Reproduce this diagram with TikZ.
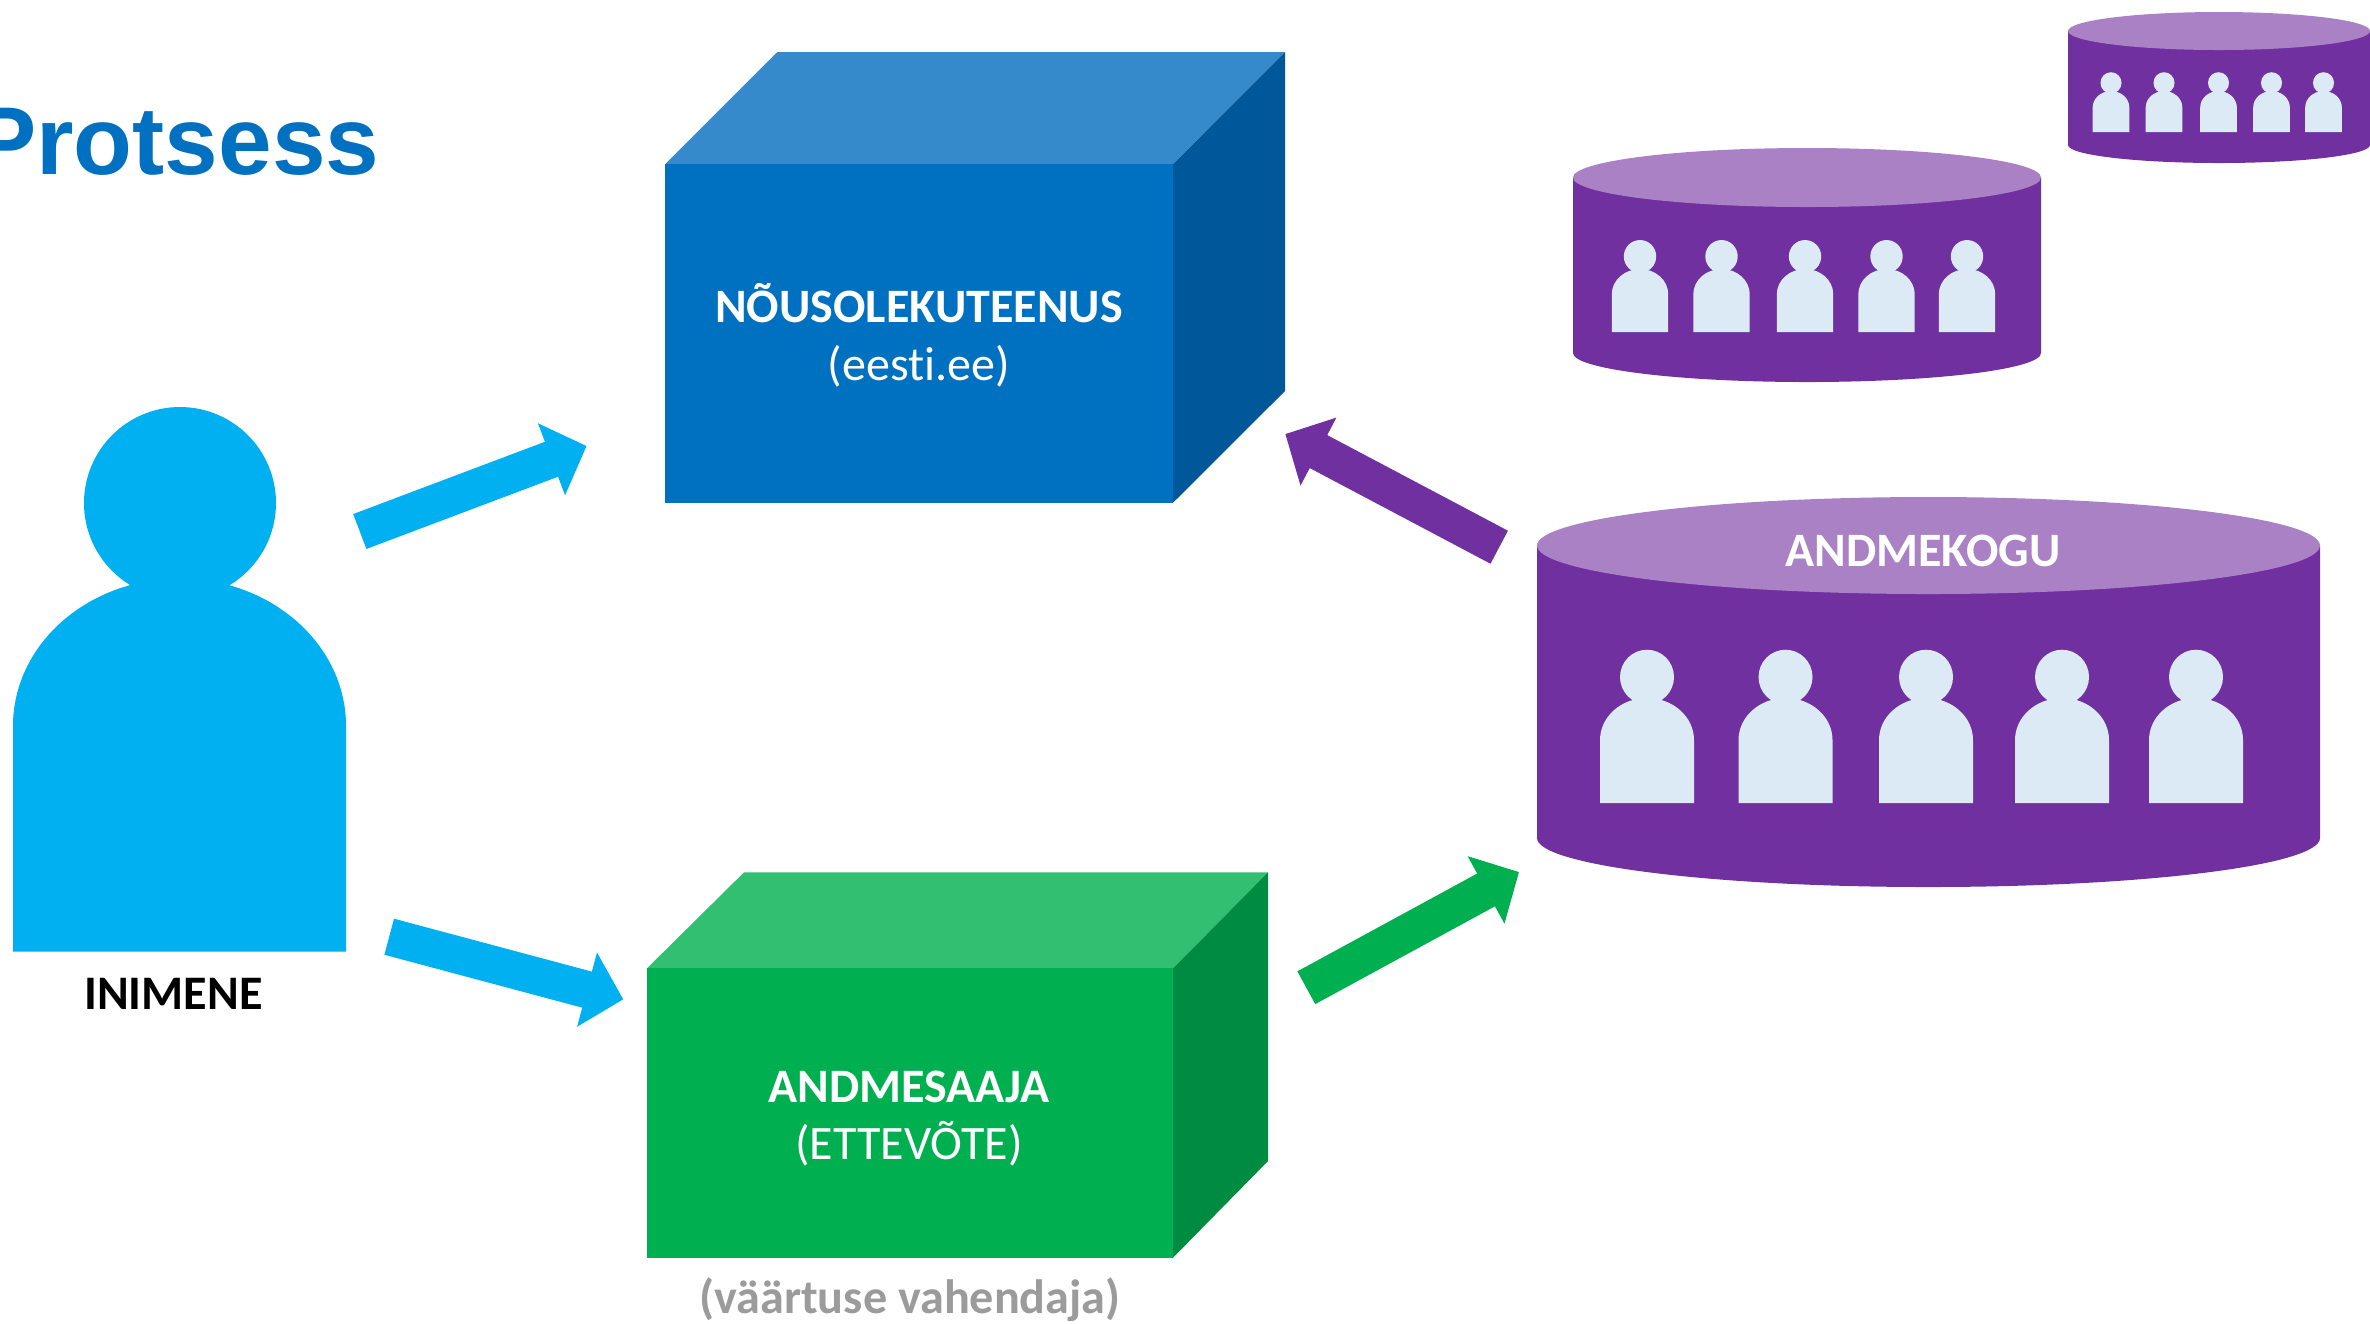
\documentclass[tikz,border=0pt]{standalone}
\usepackage{fontspec}
\setmainfont[Ligatures=NoCommon]{Carlito}
\newfontfamily\titlefont{Liberation Sans}
\usetikzlibrary{arrows.meta}
\definecolor{boxblue}{HTML}{0070C0}
\definecolor{boxbluetop}{HTML}{358ACB}
\definecolor{boxblueside}{HTML}{00579A}
\definecolor{boxgreen}{HTML}{00B050}
\definecolor{boxgreentop}{HTML}{33BF72}
\definecolor{boxgreenside}{HTML}{008C40}
\definecolor{dbpurple}{HTML}{7030A0}
\definecolor{dbtop}{HTML}{A981C4}
\definecolor{skyblue}{HTML}{00B0F0}
\definecolor{peoplefill}{HTML}{DCEAF6}
\definecolor{notegray}{HTML}{9B9B9B}
\tikzset{
  flowarrow/.style={line width=0.373cm,-{Triangle[length=0.375cm,width=0.746cm]}},
  labeltext/.style={anchor=base,inner sep=0pt,font=\fontsize{13.65pt}{16pt}\selectfont},
  whitehead/.style={labeltext,text=white,font=\fontsize{13.65pt}{16pt}\selectfont\bfseries},
  whitesub/.style={labeltext,text=white},
}
% person icon: centre x, bottom y, scale
\newcommand{\personicon}[3]{%
  \begin{scope}[shift={(#1,#2)},scale=#3]
    \fill[peoplefill] (-47,0) -- (-47,-63) arc[start angle=180,end angle=360,x radius=47,y radius=42] -- (47,0) -- cycle;
    \fill[peoplefill] (0,-126) ellipse[x radius=27,y radius=27.3];
  \end{scope}}
% cylinder: centre x, top-ellipse centre y, rx, ry of top, side-bottom y, ry of bottom
\newcommand{\dbcylinder}[6]{%
  \fill[dbpurple] ({#1-#3},#2) -- ({#1-#3},#5) arc[start angle=180,end angle=0,x radius=#3,y radius=#6] -- ({#1+#3},#2) -- cycle;
  \fill[dbtop] (#1,#2) ellipse[x radius=#3,y radius=#4];}
\begin{document}
\begin{tikzpicture}[x=0.01cm,y=-0.01cm]
\useasboundingbox (0,0) rectangle (2370,1323);
% title
\node[anchor=base east,inner sep=0pt,text=boxblue,font=\titlefont\fontsize{27.4pt}{30pt}\selectfont\bfseries] (title) at (380,174.5) {Protsess};
% consent service box
\fill[boxbluetop] (665,164.3) -- (777.3,52) -- (1285,52) -- (1173,164.3) -- cycle;
\fill[boxblueside] (1173,164.3) -- (1285,52) -- (1285,391) -- (1173,502.7) -- cycle;
\fill[boxblue] (665,164.3) rectangle (1173,502.7);
\node[whitehead] (consent) at (919,322.5) {NÕUSOLEKUTEENUS};
\node[whitesub] (consentsub) at (919,380) {(eesti.ee)};
% data receiver box
\fill[boxgreentop] (647,968.3) -- (744,872.3) -- (1268,872.3) -- (1173,968.3) -- cycle;
\fill[boxgreenside] (1173,968.3) -- (1268,872.3) -- (1268,1161) -- (1173,1257.7) -- cycle;
\fill[boxgreen] (647,968.3) rectangle (1173,1257.7);
\node[whitehead] (receiver) at (909,1102.5) {ANDMESAAJA};
\node[whitesub] (receiversub) at (909,1159) {(ETTEVÕTE)};
\node[labeltext,text=notegray,font=\fontsize{13.7pt}{16pt}\selectfont\bfseries] (note) at (910,1313.5) {(väärtuse vahendaja)};
% person
\fill[skyblue] (13,951.7) -- (13,726) arc[start angle=180,end angle=360,x radius=166.5,y radius=147.5] -- (346,951.7) -- cycle;
\fill[skyblue] (180,503) ellipse[x radius=96,y radius=96];
\node[labeltext,text=black,font=\fontsize{13.7pt}{16pt}\selectfont\bfseries] (person) at (173.3,1009) {INIMENE};
% small database
\dbcylinder{2219}{31}{151}{19}{145}{18}
\foreach \c in {2111,2164,2218.5,2271.5,2323.5} {\personicon{\c}{132}{0.39}}
% medium database
\dbcylinder{1807}{177.5}{234}{29.5}{353}{29}
\foreach \c in {1640,1721.5,1805,1886.5,1967} {\personicon{\c}{332}{0.6}}
% large database
\dbcylinder{1928.5}{545.5}{391.5}{48.5}{838}{49}
\foreach \c in {1647,1785.5,1926,2062,2196} {\personicon{\c}{803}{1}}
\node[whitehead] (db) at (1923,566) {ANDMEKOGU};
% arrows
\coordinate (a1s) at (359.8,531.5);
\coordinate (a1e) at (586.6,446);
\coordinate (a2s) at (389.2,936.7);
\coordinate (a2e) at (623.3,999.3);
\coordinate (a3s) at (1306.3,987.7);
\coordinate (a3e) at (1519,872);
\coordinate (a4s) at (1499.2,547.2);
\coordinate (a4e) at (1285.3,434);
\draw[flowarrow,skyblue] (a1s) -- (a1e);
\draw[flowarrow,skyblue] (a2s) -- (a2e);
\draw[flowarrow,boxgreen] (a3s) -- (a3e);
\draw[flowarrow,dbpurple] (a4s) -- (a4e);
\end{tikzpicture}
\end{document}
